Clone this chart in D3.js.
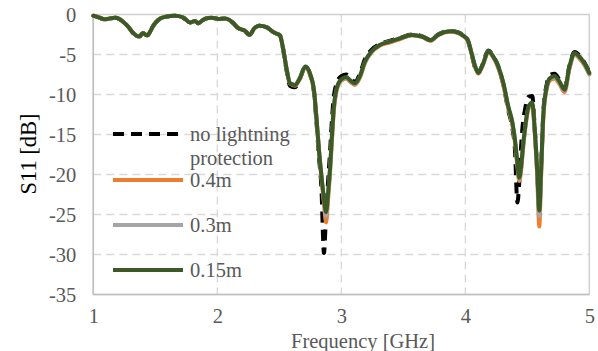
<!DOCTYPE html>
<html>
<head>
<meta charset="utf-8">
<script src="https://cdn.jsdelivr.net/npm/d3@7"></script>
<style>
  html, body { margin: 0; padding: 0; background: #fff; }
  svg { display: block; font-family: "Liberation Serif", "Times New Roman", serif; }
</style>
</head>
<body>
<svg id="chart" width="598" height="351"></svg>
<script>
// ---- data ----
const freq = [1.00,1.05,1.09,1.13,1.175,1.21,1.24,1.28,1.32,1.37,1.40,1.435,1.46,1.48,1.51,1.54,1.58,1.62,1.66,1.69,1.72,1.74,1.78,1.82,1.847,1.87,1.90,1.955,2.01,2.06,2.10,2.13,2.17,2.20,2.22,2.26,2.30,2.34,2.40,2.45,2.48,2.505,2.53,2.56,2.586,2.627,2.667,2.71,2.75,2.78,2.80,2.82,2.84,2.86,2.877,2.895,2.91,2.925,2.94,2.96,2.98,3.00,3.04,3.07,3.11,3.15,3.19,3.245,3.31,3.39,3.47,3.57,3.65,3.72,3.78,3.88,3.94,3.98,4.02,4.05,4.08,4.105,4.125,4.145,4.185,4.226,4.266,4.306,4.347,4.38,4.40,4.42,4.435,4.45,4.465,4.48,4.51,4.54,4.56,4.58,4.597,4.61,4.63,4.657,4.68,4.72,4.76,4.80,4.84,4.88,4.92,4.96,5.00];

const s015 = [-0.15,-0.4,-0.6,-0.5,-0.4,-0.55,-0.9,-1.5,-2.3,-2.75,-2.35,-2.6,-2.1,-1.5,-0.9,-0.5,-0.3,-0.2,-0.15,-0.2,-0.35,-0.55,-1.0,-0.8,-1.1,-0.85,-0.55,-0.4,-0.55,-0.5,-0.7,-1.1,-1.7,-1.9,-2.0,-2.55,-1.7,-1.4,-1.6,-2.2,-2.4,-2.6,-4.2,-6.9,-8.6,-8.8,-7.9,-6.5,-7.5,-9.5,-13,-17,-20.2,-23,-24.7,-22,-19,-15,-11.5,-9.4,-8.5,-8.1,-7.8,-8.2,-8.6,-7.7,-5.9,-4.6,-3.8,-3.4,-3.0,-2.55,-2.75,-3.2,-2.55,-2.1,-2.25,-2.6,-3.2,-4.8,-6.5,-7.3,-6.8,-6.1,-4.6,-5.25,-6.5,-8.5,-11.5,-13.5,-15.6,-18.5,-20.4,-19,-16.5,-14.4,-11.5,-11.0,-14.4,-19.5,-24.5,-20,-12.3,-9.0,-8.0,-7.7,-8.4,-9.4,-6.5,-4.8,-5.25,-6.1,-7.3];

const s03 = [-0.15,-0.4,-0.6,-0.5,-0.4,-0.55,-0.9,-1.5,-2.3,-2.75,-2.35,-2.6,-2.1,-1.5,-0.9,-0.5,-0.3,-0.2,-0.15,-0.2,-0.35,-0.55,-1.0,-0.8,-1.1,-0.85,-0.55,-0.4,-0.55,-0.5,-0.7,-1.1,-1.7,-1.9,-2.0,-2.55,-1.7,-1.4,-1.6,-2.2,-2.4,-2.6,-4.2,-6.9,-8.6,-8.8,-7.9,-6.5,-7.5,-9.5,-13,-17,-20.2,-23.2,-25.2,-22.3,-19.2,-15.2,-11.7,-9.5,-8.6,-8.2,-7.9,-8.3,-8.7,-7.8,-6.0,-4.7,-3.8,-3.4,-3.0,-2.55,-2.75,-3.2,-2.55,-2.1,-2.25,-2.6,-3.2,-4.8,-6.5,-7.3,-6.8,-6.1,-4.6,-5.3,-6.6,-8.6,-11.6,-13.6,-15.7,-18.6,-20.6,-19.2,-16.6,-14.5,-11.6,-11.1,-14.6,-19.8,-25.2,-20.3,-12.5,-9.1,-8.1,-7.8,-8.5,-9.5,-6.6,-4.9,-5.35,-6.2,-7.4];

const s04 = [-0.15,-0.4,-0.6,-0.5,-0.4,-0.55,-0.9,-1.5,-2.3,-2.75,-2.35,-2.6,-2.1,-1.5,-0.9,-0.5,-0.3,-0.2,-0.15,-0.2,-0.35,-0.55,-1.0,-0.8,-1.1,-0.85,-0.55,-0.4,-0.55,-0.5,-0.7,-1.1,-1.7,-1.9,-2.0,-2.55,-1.7,-1.4,-1.6,-2.2,-2.4,-2.6,-4.2,-6.9,-8.6,-8.9,-8.0,-6.6,-7.6,-9.6,-13,-17,-20.4,-23.6,-26.0,-22.8,-19.6,-15.6,-12.0,-9.7,-8.7,-8.3,-8.0,-8.4,-8.8,-7.9,-6.1,-4.7,-3.9,-3.5,-3.1,-2.6,-2.8,-3.3,-2.6,-2.15,-2.3,-2.65,-3.3,-4.9,-6.6,-7.4,-6.9,-6.2,-4.7,-5.4,-6.7,-8.8,-11.8,-13.8,-15.9,-18.9,-20.8,-19.5,-16.9,-14.7,-11.8,-11.3,-14.8,-20.2,-26.5,-20.8,-12.8,-9.3,-8.3,-8.0,-8.7,-9.7,-6.8,-5.0,-5.5,-6.3,-7.5];

const sNone = [-0.15,-0.4,-0.6,-0.5,-0.4,-0.55,-0.9,-1.5,-2.3,-2.75,-2.35,-2.6,-2.1,-1.5,-0.9,-0.5,-0.3,-0.2,-0.15,-0.2,-0.35,-0.55,-1.0,-0.8,-1.1,-0.85,-0.55,-0.4,-0.55,-0.5,-0.7,-1.1,-1.7,-1.9,-2.0,-2.55,-1.7,-1.4,-1.6,-2.2,-2.4,-2.6,-4.3,-7.1,-8.9,-9.1,-8.0,-6.5,-7.6,-9.8,-13.5,-17.8,-21.8,-29.8,-25.0,-20.5,-17.0,-13.0,-10.2,-8.7,-8.0,-7.7,-7.5,-7.9,-8.4,-7.4,-5.6,-4.4,-3.7,-3.3,-2.95,-2.5,-2.7,-3.15,-2.5,-2.05,-2.2,-2.55,-3.2,-4.9,-6.7,-7.3,-6.8,-6.0,-4.5,-5.2,-6.5,-8.7,-12.0,-14.2,-16.8,-23.5,-21.0,-16.5,-13.5,-12.0,-10.3,-10.2,-14.2,-19.5,-24.2,-19.8,-12.0,-8.7,-7.6,-7.4,-8.2,-9.2,-6.4,-4.7,-5.1,-6.0,-7.2];

const seriesNames = ["no lightning protection", "0.4m", "0.3m", "0.15m"];
const seriesValues = [sNone, s04, s03, s015];
const seriesColors = ["#000000", "#ED7D31", "#A5A5A5", "#3B5A26"];
const seriesDash = ["11,7", null, null, null];

const yTicks = [0, -5, -10, -15, -20, -25, -30, -35];
const xTicks = [1, 2, 3, 4, 5];

// ---- layout ----
const svg = d3.select("#chart");
const x = d3.scaleLinear().domain([1, 5]).range([93.3, 589.3]);
const y = d3.scaleLinear().domain([-35, 0]).range([294.5, 14.5]);

const grid = svg.append("g");
grid.selectAll("line.h").data(yTicks.filter(d => d !== -35 && d !== 0)).join("line")
  .attr("x1", x(1)).attr("x2", x(5))
  .attr("y1", d => y(d)).attr("y2", d => y(d))
  .attr("stroke", "#D9D9D9").attr("stroke-width", 1.3).attr("stroke-dasharray", "8,5");
grid.selectAll("line.v").data(xTicks.filter(d => d !== 1 && d !== 5)).join("line")
  .attr("x1", d => x(d)).attr("x2", d => x(d))
  .attr("y1", y(0)).attr("y2", y(-35))
  .attr("stroke", "#D9D9D9").attr("stroke-width", 1.3).attr("stroke-dasharray", "8,5");
grid.append("rect")
  .attr("x", x(1)).attr("y", y(0))
  .attr("width", x(5) - x(1)).attr("height", y(-35) - y(0))
  .attr("fill", "none").attr("stroke", "#D0D0D0").attr("stroke-width", 1.5);
grid.append("line").attr("x1", x(1)).attr("x2", x(1)).attr("y1", y(0)).attr("y2", y(-35))
  .attr("stroke", "#BFBFBF").attr("stroke-width", 1.5);
grid.append("line").attr("x1", x(1)).attr("x2", x(5)).attr("y1", y(-35)).attr("y2", y(-35))
  .attr("stroke", "#BFBFBF").attr("stroke-width", 1.5);

const yAxis = svg.append("g").attr("transform", `translate(${x(1)},0)`)
  .call(d3.axisLeft(y).tickValues(yTicks).tickSize(0).tickPadding(17).tickFormat(d => String(d)));
const xAxis = svg.append("g").attr("transform", `translate(0,${y(-35)})`)
  .call(d3.axisBottom(x).tickValues(xTicks).tickSize(0).tickPadding(14).tickFormat(d => String(d)));
[yAxis, xAxis].forEach(g => {
  g.select(".domain").remove();
  g.selectAll("text").attr("font-family", "Liberation Serif, serif").attr("font-size", 20.5).attr("fill", "#595959");
});

const line = d3.line().x((d, i) => x(freq[i])).y(d => y(d)).curve(d3.curveMonotoneX);
seriesValues.forEach((vals, k) => {
  svg.append("path").datum(vals)
    .attr("d", line)
    .attr("fill", "none")
    .attr("stroke", seriesColors[k])
    .attr("stroke-width", 4)
    .attr("stroke-linejoin", "round")
    .attr("stroke-linecap", seriesDash[k] ? "butt" : "round")
    .attr("stroke-dasharray", seriesDash[k]);
});

svg.append("text").attr("x", 363).attr("y", 348).attr("text-anchor", "middle")
  .attr("font-size", 20.5).attr("fill", "#595959").text("Frequency [GHz]");
svg.append("text").attr("transform", "translate(36,154) rotate(-90)").attr("text-anchor", "middle")
  .attr("font-size", 22.5).attr("fill", "#000").text("S11 [dB]");

const legendRows = [
  { i: 0, ly: 134, lines: ["no lightning", "protection"] },
  { i: 1, ly: 180, lines: ["0.4m"] },
  { i: 2, ly: 225, lines: ["0.3m"] },
  { i: 3, ly: 270, lines: ["0.15m"] }
];
const lg = svg.append("g");
legendRows.forEach(r => {
  lg.append("line").attr("x1", 113).attr("x2", 183).attr("y1", r.ly).attr("y2", r.ly)
    .attr("stroke", seriesColors[r.i]).attr("stroke-width", 4)
    .attr("stroke-dasharray", seriesDash[r.i]);
  r.lines.forEach((t, j) => {
    lg.append("text").attr("x", 190).attr("y", r.ly + 7 + j * 24)
      .attr("font-size", 20.5).attr("fill", "#595959").text(t);
  });
});
</script>
</body>
</html>
